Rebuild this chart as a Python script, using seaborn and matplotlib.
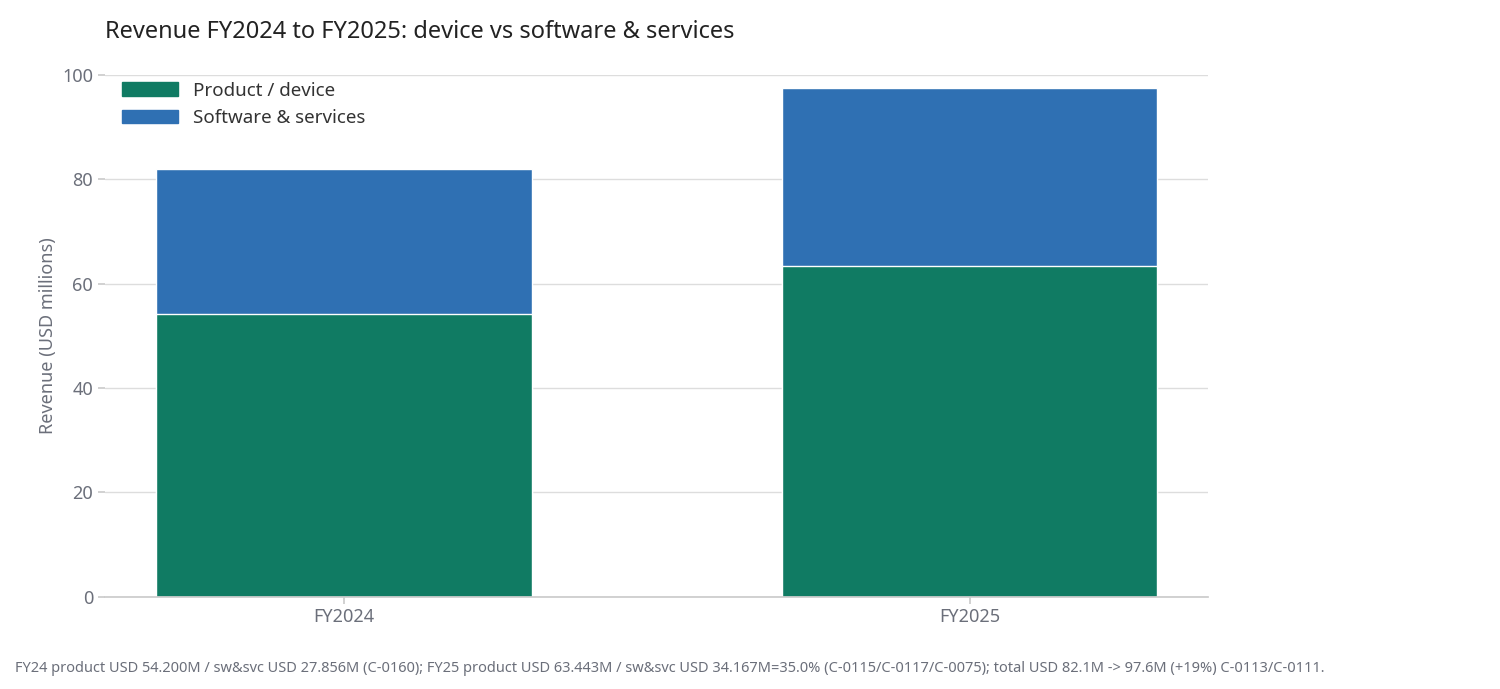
import matplotlib
matplotlib.use("Agg")
import matplotlib.pyplot as plt
import seaborn as sns
import pandas as pd
from matplotlib.patches import Patch

years = ["FY2024", "FY2025"]
product = [54.200, 63.443]
software = [27.856, 34.167]
totals = [p + s for p, s in zip(product, software)]

sns.set_theme(style="white")
plt.rcParams['font.family'] = ['Noto Sans', 'DejaVu Sans']

green = "#107b63"
blue = "#2f70b3"

fig = plt.figure(figsize=(15, 6.89), dpi=100)
ax = fig.add_axes([0.07, 0.134, 0.735, 0.757])

df = pd.DataFrame({"year": years, "product": product, "total": totals})
sns.barplot(data=df, x="year", y="total", color=blue, width=0.6, saturation=1, ax=ax)
sns.barplot(data=df, x="year", y="product", color=green, width=0.6, saturation=1, ax=ax)

ax.set_ylim(0, 100)
ax.set_xlim(-0.382, 1.38)
ax.set_yticks([0, 20, 40, 60, 80, 100])
ax.yaxis.grid(True, color="#dddddd", lw=1)
ax.set_axisbelow(True)
for s in ["top", "right", "left"]:
    ax.spines[s].set_visible(False)
ax.spines["bottom"].set_color("#cccccc")
ax.tick_params(axis="both", colors="#6b6f7a", labelsize=13, length=5, color="#cccccc", left=True, bottom=True)
ax.set_xlabel("")
ax.set_ylabel("Revenue (USD millions)", color="#6b6f7a", fontsize=13)

ax.legend(handles=[Patch(color=green, label="Product / device"),
                   Patch(color=blue, label="Software & services")],
          loc="upper left", frameon=False, fontsize=13.5, labelcolor="#333333",
          handlelength=3, bbox_to_anchor=(0.0, 1.02))

fig.text(0.07, 0.945, "Revenue FY2024 to FY2025: device vs software & services",
         fontsize=17, fontweight="bold", color="#222222")
fig.text(0.01, 0.025, "FY24 product USD 54.200M / sw&svc USD 27.856M (C-0160); FY25 product USD 63.443M / sw&svc USD 34.167M=35.0% (C-0115/C-0117/C-0075); total USD 82.1M -> 97.6M (+19%) C-0113/C-0111.",
         fontsize=10.5, color="#6b6f7a")

fig.savefig("out.png", dpi=100)
